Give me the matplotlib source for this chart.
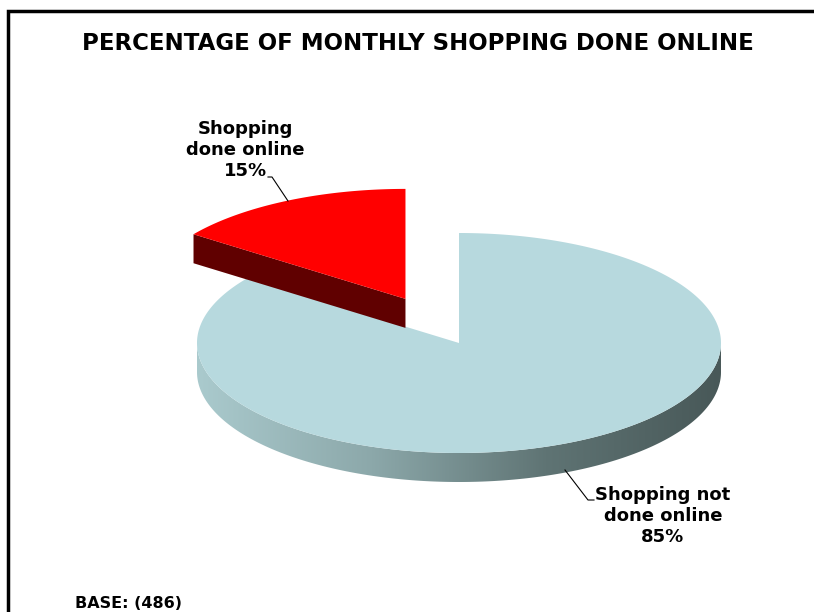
import numpy as np
import matplotlib
matplotlib.use("Agg")
from matplotlib import pyplot as plt
from matplotlib.patches import Polygon
from matplotlib.colors import LinearSegmentedColormap

# shares of monthly shopping, in the order they run clockwise from 12 o'clock
labels = ["Shopping not\ndone online", "Shopping\ndone online"]
shares = [85, 15]
explode = [0.0, 0.45]
top_colors = ["#B7D9DE", "#FF0000"]
side_colors = [None, "#600000"]   # None -> gradient side

title = "PERCENTAGE OF MONTHLY SHOPPING DONE ONLINE"
base_note = "BASE: (486)"

W, H = 814, 612
fig = plt.figure(figsize=(W / 100, H / 100), dpi=100)
ax = fig.add_axes([0, 0, 1, 1])
ax.set_xlim(0, W)
ax.set_ylim(H, 0)
ax.axis("off")

# pie geometry (pixels)
cx, cy = 459, 343
ra, rb = 262, 110
depth = 29


def pt(t, ox=0.0, oy=0.0, dz=0.0):
    return (cx + ox + ra * np.cos(t), cy + oy - rb * np.sin(t) + dz)


side_cmap = LinearSegmentedColormap.from_list(
    "side", ["#AACACD", "#8CA8AA", "#5F7474", "#485858"])

# slice angles, clockwise from the top
fracs = np.array(shares) / sum(shares)
start = np.pi / 2
slices = []
for f in fracs:
    t_hi = start
    t_lo = start - 2 * np.pi * f
    slices.append((t_lo, t_hi))
    start = t_lo

for i, (t_lo, t_hi) in enumerate(slices):
    tm = 0.5 * (t_lo + t_hi)
    ox = explode[i] * ra * np.cos(tm)
    oy = -explode[i] * rb * np.sin(tm)
    ts = np.linspace(t_lo, t_hi, 400)

    # curved front side: the part of the rim facing the viewer
    front = ts[np.sin(ts) < 0]
    if len(front) > 1:
        upper = [pt(t, ox, oy) for t in front]
        lower = [pt(t, ox, oy, depth) for t in front[::-1]]
        poly = Polygon(upper + lower, closed=True, lw=0)
        if side_colors[i] is None:
            poly.set_facecolor("none")
            ax.add_patch(poly)
            grad = np.linspace(0, 1, 256).reshape(1, -1)
            im = ax.imshow(grad, cmap=side_cmap, aspect="auto",
                           extent=[cx + ox - ra, cx + ox + ra,
                                   cy + oy + rb + depth, cy + oy - rb],
                           zorder=1)
            im.set_clip_path(poly)
        else:
            poly.set_facecolor(side_colors[i])
            poly.set_zorder(2 + i * 3)
            ax.add_patch(poly)

    # flat radial sides that face the viewer
    for t_edge, normal in ((t_lo, t_lo - np.pi / 2), (t_hi, t_hi + np.pi / 2)):
        if np.sin(normal) < -1e-6:
            p0 = (cx + ox, cy + oy)
            p1 = pt(t_edge, ox, oy)
            quad = [p0, p1, (p1[0], p1[1] + depth), (p0[0], p0[1] + depth)]
            col = side_colors[i] if side_colors[i] else "#7F9A9C"
            ax.add_patch(Polygon(quad, closed=True, fc=col, lw=0,
                                 zorder=2 + i * 3))

    # top face
    top = [(cx + ox, cy + oy)] + [pt(t, ox, oy) for t in ts]
    ax.add_patch(Polygon(top, closed=True, fc=top_colors[i], lw=0,
                         zorder=3 + i * 3))

# data labels with leader lines
lab_kw = dict(ha="center", va="center", fontsize=13, fontweight="bold",
              linespacing=1.2, family="DejaVu Sans")
ax.text(663, 516, f"{labels[0]}\n{shares[0]}%", **lab_kw)
ax.plot([565, 588, 594], [470, 500, 500], color="black", lw=0.8, zorder=10)
ax.text(245, 150, f"{labels[1]}\n{shares[1]}%", **lab_kw)
ax.plot([268, 272, 288], [177, 177, 201], color="black", lw=0.8, zorder=10)

ax.text(418, 43, title, ha="center", va="center", fontsize=16.5,
        fontweight="bold", family="DejaVu Sans")
ax.text(75, 608, base_note, ha="left", va="baseline", fontsize=11.5,
        fontweight="bold", family="DejaVu Sans")

# chart frame (runs past the right and bottom edges)
ax.plot([8, 8, W + 5], [H + 5, 11, 11], color="black", lw=2.5,
        solid_joinstyle="miter", clip_on=False, zorder=12)

fig.savefig("out.png", dpi=100)
